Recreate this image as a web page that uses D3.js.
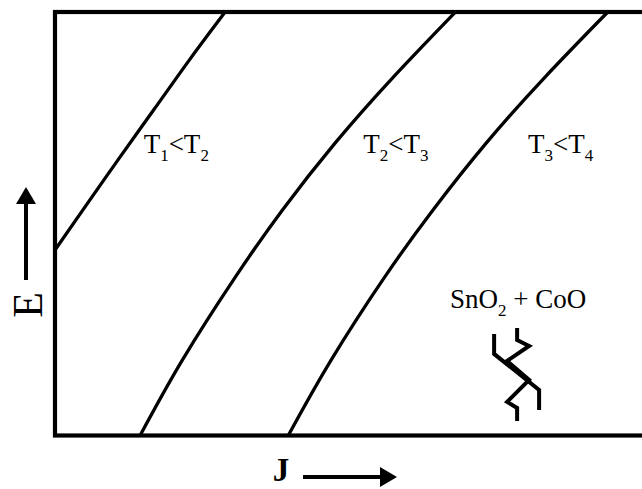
<!DOCTYPE html>
<html>
<head>
<meta charset="utf-8">
<script src="https://cdn.jsdelivr.net/npm/d3@7"></script>
<style>
  body { margin: 0; background: #fff; }
  text { font-family: "Liberation Serif", "Times New Roman", serif; fill: #000; }
</style>
</head>
<body>
<svg width="642" height="489"></svg>
<script>
// curve data (J, E) in arbitrary units
const curve1J = [0, 4.9, 10.8, 16.6, 22.6, 28.6];
const curve1E = [43.8, 53.7, 65.5, 76.9, 88.7, 100];
const curve2J = [14.3, 21.4, 30.3, 38.2, 47.1, 56.9, 67.3];
const curve2E = [0, 17.8, 37.4, 53.2, 69.1, 84.7, 100];
const curve3J = [39.2, 46.4, 55.4, 63.5, 72.5, 82.4, 92.9];
const curve3E = [0, 17.8, 37.4, 53.2, 69.1, 84.7, 100];

// region labels: [main, sub, main, sub]
const labels = [
  { J: 14.9, E: 66.6, parts: ["T", "1", "<T", "2"] },
  { J: 51.8, E: 66.6, parts: ["T", "2", "<T", "3"] },
  { J: 79.5, E: 66.6, parts: ["T", "3", "<T", "4"] }
];
const materialLabel = { J: 66.4, E: 30.0, parts: ["SnO", "2", " + CoO"] };

const svg = d3.select("svg");
const width = 642, height = 489;

const x = d3.scaleLinear().domain([0, 100]).range([55, 650]);
const y = d3.scaleLinear().domain([0, 100]).range([435.5, 12]);

svg.append("rect").attr("width", width).attr("height", height).attr("fill", "#fff");

const line = d3.line()
  .x((d) => x(d[0]))
  .y((d) => y(d[1]))
  .curve(d3.curveNatural);

const curves = [
  d3.zip(curve1J, curve1E),
  d3.zip(curve2J, curve2E),
  d3.zip(curve3J, curve3E)
];

svg.selectAll("path.curve")
  .data(curves)
  .enter()
  .append("path")
  .attr("class", "curve")
  .attr("d", line)
  .attr("fill", "none")
  .attr("stroke", "#000")
  .attr("stroke-width", 3.3);

// frame (right side runs off the picture)
svg.append("rect")
  .attr("x", x(0))
  .attr("y", y(100))
  .attr("width", x(100) - x(0))
  .attr("height", y(0) - y(100))
  .attr("fill", "none")
  .attr("stroke", "#000")
  .attr("stroke-width", 4.2);

// labels with subscripts
function subText(d, size, subSize) {
  const t = svg.append("text")
    .attr("x", x(d.J))
    .attr("y", y(d.E))
    .attr("font-size", size);
  d.parts.forEach((p, i) => {
    const isSub = i % 2 === 1;
    t.append("tspan")
      .attr("font-size", isSub ? subSize : size)
      .attr("dy", isSub ? 8 : (i === 0 ? 0 : -8))
      .attr("xml:space", "preserve")
      .text(p);
  });
}
labels.forEach((d) => subText(d, 27, 17));
subText(materialLabel, 27, 17);

// grain symbol below the material label
const zigA = [[0, 6], [0, 26], [45, 62], [45, 82]];
const zigB = [[23, 0], [23, 12], [35, 18], [13, 33], [35, 52], [13, 74], [23, 80], [23, 93]];
const zig = svg.append("g").attr("transform", `translate(${x(73.8)},${y(25.4)})`);
[zigA, zigB].forEach((pts) => {
  zig.append("path")
    .attr("d", d3.line()(pts))
    .attr("fill", "none")
    .attr("stroke", "#000")
    .attr("stroke-width", 4)
    .attr("stroke-linejoin", "miter");
});

// axis names with arrows
svg.append("text")
  .attr("transform", "translate(42,305) rotate(-90)")
  .attr("text-anchor", "middle")
  .attr("font-size", 42)
  .text("E");

svg.append("line")
  .attr("x1", 26).attr("y1", 280).attr("x2", 26).attr("y2", 200)
  .attr("stroke", "#000").attr("stroke-width", 4);
svg.append("path")
  .attr("d", "M16,204 L36,204 L26,187 Z")
  .attr("fill", "#000");

svg.append("text")
  .attr("x", 281)
  .attr("y", 481)
  .attr("text-anchor", "middle")
  .attr("font-size", 33)
  .attr("font-weight", "bold")
  .text("J");

svg.append("line")
  .attr("x1", 303).attr("y1", 477).attr("x2", 383).attr("y2", 477)
  .attr("stroke", "#000").attr("stroke-width", 4);
svg.append("path")
  .attr("d", "M380,467 L380,487 L397,477 Z")
  .attr("fill", "#000");
</script>
</body>
</html>
